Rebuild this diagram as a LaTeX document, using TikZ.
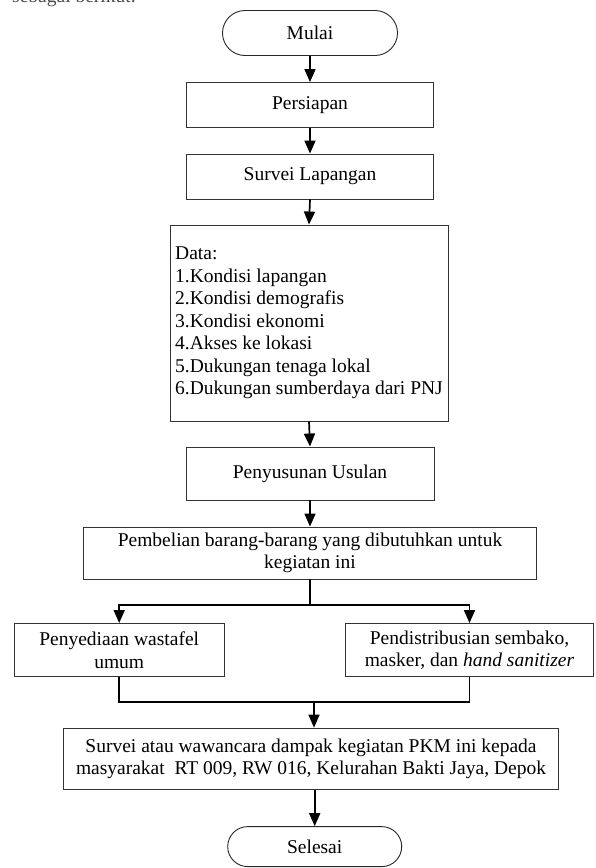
\documentclass[tikz,border=0pt]{standalone}
\usepackage{fontspec}
\setmainfont{Liberation Serif}
\usetikzlibrary{shapes.misc,arrows.meta}
\begin{document}
\begin{tikzpicture}[x=1pt,y=-1pt,
  font=\fontsize{19.5}{22.5}\selectfont,
  box/.style={draw=black!80,line width=0.9pt,inner sep=0pt,align=center},
  term/.style={draw=black!85,line width=0.9pt,rounded rectangle,inner sep=0pt,minimum width=175pt,minimum height=45pt},
  flow/.style={-{Triangle[length=13pt,width=11pt]},line width=1.7pt},
  plain/.style={line width=1.7pt}
]
\useasboundingbox (0,0) rectangle (596,868);
\begin{scope}
\clip (0,0) rectangle (596,868);
\node[anchor=base west,inner sep=0pt,text=black!70] (intro) at (12,2) {sebagai berikut.};
\end{scope}

\node[term] (mulai) at (310,33) {Mulai};
\node[box,minimum width=247pt,minimum height=45pt] (persiapan) at (310,105) {Persiapan};
\node[box,minimum width=247pt,minimum height=45pt] (survei) at (310,176.5) {Survei Lapangan};
\node[box,minimum width=278pt,minimum height=196pt,align=left] (data) at (309,323)
  {Data:\\1.Kondisi lapangan\\2.Kondisi demografis\\3.Kondisi ekonomi\\4.Akses ke lokasi\\5.Dukungan tenaga lokal\\6.Dukungan sumberdaya dari PNJ};
\node[box,minimum width=248pt,minimum height=53pt] (usulan) at (310,473.5) {Penyusunan Usulan};
\node[box,minimum width=453pt,minimum height=52pt] (beli) at (310,553) {Pembelian barang-barang yang dibutuhkan untuk\\kegiatan ini};
\node[box,minimum width=210pt,minimum height=53pt] (wastafel) at (119.2,650) {Penyediaan wastafel\\umum};
\node[box,minimum width=248pt,minimum height=53pt] (sembako) at (469.5,650) {Pendistribusian sembako,\\masker, dan \textit{hand sanitizer}};
\node[box,minimum width=495pt,minimum height=61pt] (dampak) at (311,758.6) {Survei atau wawancara dampak kegiatan PKM ini kepada\\masyarakat\ \ RT 009, RW 016, Kelurahan Bakti Jaya, Depok};
\node[term,minimum width=174pt,minimum height=40pt] (selesai) at (314.7,846.6) {Selesai};

\coordinate (split) at (310,605);
\coordinate (merge) at (314,702);

\draw[flow] (mulai.south) -- (persiapan.north);
\draw[flow] (persiapan.south) -- (survei.north);
\draw[flow] (survei.south) -- (data.north);
\draw[flow] (data.south) -- (usulan.north);
\draw[flow] (usulan.south) -- (beli.north);
\draw[plain] (beli.south) -- (split);
\draw[flow] (split) -| (wastafel.north);
\draw[flow] (split) -| (sembako.north);
\draw[plain] (wastafel.south) |- (merge);
\draw[plain] (sembako.south) |- (merge);
\draw[flow] (merge) -- (merge |- dampak.north);
\draw[flow] (dampak.south -| selesai.north) -- (selesai.north);
\end{tikzpicture}
\end{document}
